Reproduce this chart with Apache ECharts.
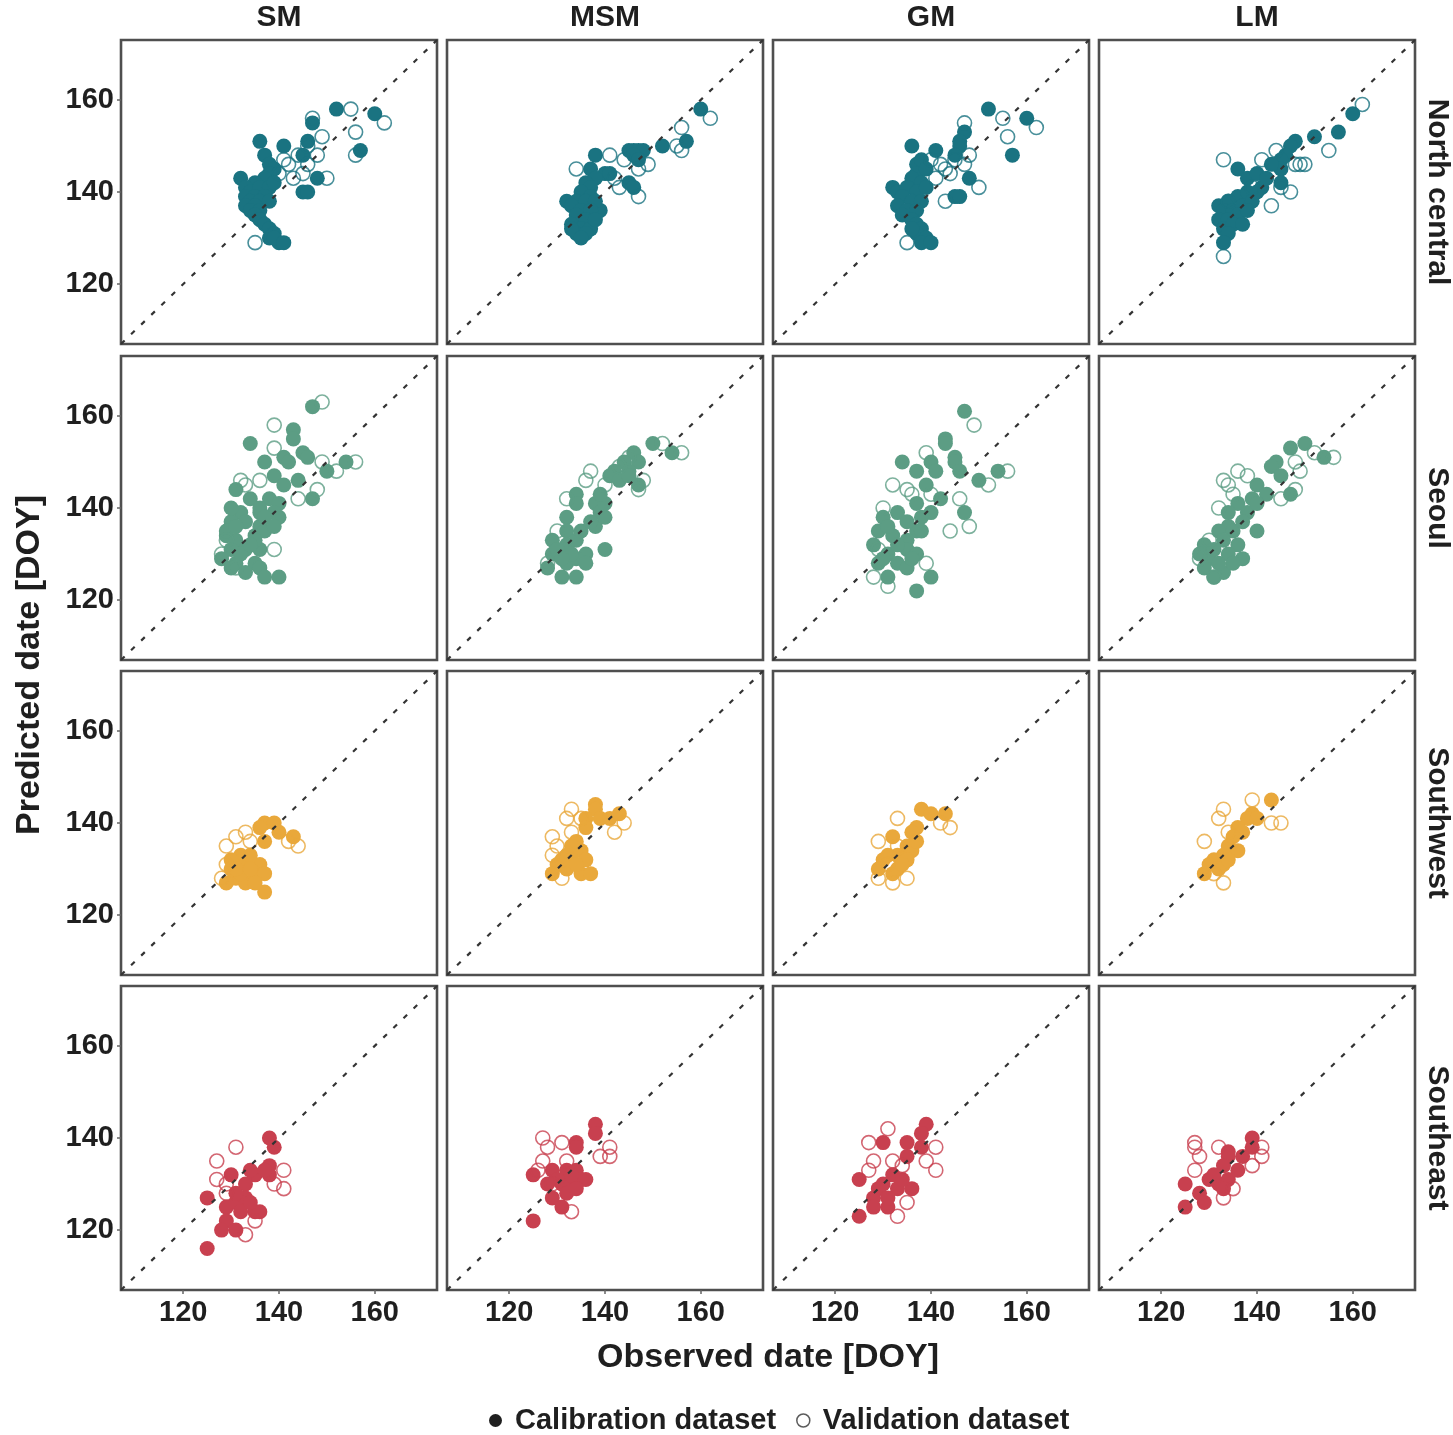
<!DOCTYPE html>
<html>
<head>
<meta charset="utf-8">
<script src="https://cdn.jsdelivr.net/npm/echarts@6/dist/echarts.min.js"></script>
<style>
html,body{margin:0;padding:0;background:#fff;}
#chart{width:1453px;height:1435px;}
</style>
</head>
<body>
<div id="chart"></div>
<script>
// ---------- DATA ----------
const models = ['SM', 'MSM', 'GM', 'LM'];
const regions = ['North central', 'Seoul', 'Southwest', 'Southeast'];
const regionColors = ['#1a7381', '#5c9d84', '#e9a83b', '#c8404f'];
const axisMin = 107, axisMax = 173;
const tickValues = [120, 140, 160];

// North central
const ncSmCal = [[152,158],[160,157],[147,155],[136,151],[141,150],[146,151],[145,148],[157,149],[137,148],[138,146],[132,143],[148,143],[145,140],[146,140],[139,145],[138,144],[137,143],[135,142],[133,141],[134,140],[136,141],[138,141],[139,142],[133,139],[135,139],[137,139],[134,138],[136,138],[138,138],[133,137],[135,137],[134,136],[136,136],[135,135],[136,134],[137,133],[138,132],[139,131],[138,130],[140,129],[139,130],[141,129]];
const ncSmVal = [[155,158],[162,155],[156,153],[149,152],[156,148],[150,143],[135,129],[142,146],[144,148],[146,146],[148,148],[143,143],[146,150],[140,144],[145,144],[147,156],[141,147]];
const ncMsmCal = [[160,158],[157,151],[152,150],[145,149],[146,149],[147,149],[148,149],[146,148],[147,147],[138,148],[145,142],[146,141],[140,144],[141,144],[132,138],[139,136],[137,145],[138,143],[136,142],[137,141],[135,140],[137,139],[134,138],[136,138],[138,138],[133,137],[135,136],[137,136],[134,135],[136,134],[133,133],[135,132],[137,132],[134,131],[136,131],[133,132],[135,130],[138,134]];
const ncMsmVal = [[162,156],[156,154],[134,145],[141,148],[144,147],[147,139],[143,141],[155,150],[156,149],[149,146],[147,145],[142,143]];
const ncGmCal = [[152,158],[160,156],[147,153],[146,151],[136,150],[141,149],[146,150],[145,148],[157,148],[137,146],[132,141],[145,139],[146,139],[148,143],[138,147],[137,144],[139,145],[136,143],[138,142],[133,140],[135,141],[137,140],[139,141],[134,139],[136,138],[138,138],[133,137],[135,136],[137,136],[134,135],[136,134],[137,133],[138,132],[137,131],[139,130],[138,129],[140,129],[136,132]];
const ncGmVal = [[147,155],[155,156],[156,152],[162,154],[150,141],[143,138],[135,129],[140,147],[142,146],[144,144],[145,147],[147,146],[148,148],[141,143],[143,145]];
const ncLmCal = [[160,157],[157,153],[152,152],[148,151],[147,150],[146,148],[145,147],[145,145],[145,142],[136,145],[138,143],[141,141],[143,146],[140,144],[132,137],[134,138],[136,139],[138,140],[133,136],[135,136],[137,137],[139,138],[132,134],[134,134],[136,135],[138,136],[133,132],[135,133],[137,133],[134,131],[133,129],[140,140],[142,143]];
const ncLmVal = [[162,159],[155,149],[149,146],[148,146],[150,146],[133,147],[141,147],[144,149],[143,137],[147,140],[133,126],[134,138],[139,141],[145,141]];

// Seoul
const seoulSmCal = [[147,162],[143,157],[143,155],[134,154],[141,151],[142,150],[145,152],[146,151],[137,150],[154,150],[150,148],[131,144],[147,142],[139,147],[141,145],[144,146],[134,142],[138,142],[140,141],[132,139],[136,139],[139,139],[130,137],[133,137],[136,136],[140,138],[129,134],[131,133],[135,134],[137,135],[130,131],[133,131],[136,131],[128,129],[131,128],[135,128],[133,126],[136,127],[137,125],[140,125],[130,140],[136,140],[129,135],[131,136],[135,133],[132,130],[130,127],[134,132],[137,138],[139,136]];
const seoulSmVal = [[149,163],[139,158],[139,153],[156,150],[152,148],[132,146],[136,146],[148,144],[144,142],[139,131],[128,130],[131,127],[149,150],[129,133],[133,145]];
const seoulMsmCal = [[150,154],[154,152],[146,152],[144,150],[142,148],[141,147],[143,146],[147,150],[147,145],[145,148],[134,143],[134,141],[138,141],[139,139],[140,141],[138,136],[140,138],[132,138],[132,135],[129,133],[132,132],[134,133],[136,130],[129,130],[132,128],[134,129],[128,127],[131,125],[134,125],[136,128],[140,131],[130,131],[133,130],[135,135],[137,137],[131,129],[139,143],[145,147]];
const seoulMsmVal = [[156,152],[152,154],[148,146],[147,144],[136,146],[137,148],[132,142],[140,145],[145,151],[128,128],[143,149],[130,135]];
const seoulGmCal = [[147,161],[143,155],[143,154],[134,150],[137,148],[140,150],[141,148],[145,151],[145,150],[146,148],[154,148],[150,146],[147,139],[139,145],[142,142],[137,135],[137,141],[140,139],[133,139],[130,138],[135,137],[138,138],[129,135],[132,134],[135,133],[138,135],[128,132],[131,130],[135,131],[137,130],[129,128],[133,128],[131,125],[135,127],[140,125],[137,122],[131,136],[133,132],[136,129],[130,129]];
const seoulGmVal = [[149,158],[139,152],[132,145],[135,144],[136,143],[140,143],[152,145],[156,148],[146,142],[144,135],[148,136],[139,128],[128,125],[131,123],[130,140],[129,131]];
const seoulLmCal = [[150,154],[147,153],[154,151],[144,150],[143,149],[145,147],[147,143],[140,145],[142,143],[139,142],[136,141],[138,139],[134,139],[140,141],[140,135],[134,136],[132,135],[135,135],[129,132],[133,133],[136,132],[130,129],[134,130],[137,129],[129,127],[133,126],[135,128],[131,125],[131,131],[132,128],[128,130],[137,137]];
const seoulLmVal = [[156,151],[152,152],[149,148],[148,150],[148,144],[136,148],[133,146],[138,147],[132,140],[135,143],[145,142],[131,125],[128,129],[130,133],[134,145]];

// Southwest
const swSmCal = [[137,140],[139,140],[136,139],[140,138],[143,137],[137,136],[132,133],[130,132],[133,131],[136,131],[135,129],[131,128],[129,127],[133,127],[137,129],[130,130],[137,125],[134,133],[132,129],[135,127],[131,130],[134,130]];
const swSmVal = [[129,135],[133,138],[144,135],[129,131],[142,136],[134,136],[131,137],[128,128]];
const swMsmCal = [[138,144],[138,143],[136,141],[139,141],[141,141],[143,142],[136,139],[133,135],[132,133],[135,134],[130,131],[132,130],[136,132],[129,129],[135,129],[137,129],[134,136],[133,132],[131,132],[134,131]];
const swMsmVal = [[133,143],[132,141],[135,141],[129,137],[142,138],[144,140],[129,133],[131,128],[133,138],[130,135]];
const swGmCal = [[138,143],[140,142],[143,142],[137,139],[136,138],[132,137],[135,135],[133,133],[136,134],[130,132],[133,130],[135,132],[129,130],[132,129],[134,131],[131,133],[137,136]];
const swGmVal = [[133,141],[129,136],[144,139],[142,140],[129,128],[132,127],[135,128],[133,135],[131,131]];
const swLmCal = [[143,145],[139,142],[138,141],[140,141],[136,139],[137,138],[134,135],[133,133],[136,134],[131,132],[133,131],[129,129],[132,130],[135,137],[134,132],[130,131]];
const swLmVal = [[139,145],[133,143],[132,141],[145,140],[143,140],[129,136],[133,127],[134,138],[131,129]];

// Southeast
const seSmCal = [[138,140],[139,138],[135,132],[134,133],[138,134],[138,132],[130,132],[133,130],[125,127],[129,125],[131,126],[133,127],[135,124],[132,124],[129,122],[131,120],[128,120],[136,124],[125,116],[131,128],[134,126],[137,133]];
const seSmVal = [[131,138],[127,135],[141,133],[141,129],[139,130],[127,131],[135,122],[133,119],[129,128],[129,130]];
const seMsmCal = [[138,143],[138,141],[134,139],[134,138],[125,132],[129,133],[132,133],[134,133],[136,131],[131,130],[133,130],[132,128],[129,127],[131,125],[125,122],[135,131],[130,131],[133,132],[128,130],[134,129]];
const seMsmVal = [[127,140],[131,139],[128,138],[141,138],[139,136],[141,136],[127,135],[132,135],[133,124],[129,130],[126,133]];
const seGmCal = [[139,143],[138,141],[135,139],[135,136],[130,139],[138,138],[125,131],[132,132],[129,129],[133,129],[136,129],[128,127],[131,125],[128,125],[125,123],[134,131],[131,127],[130,130]];
const seGmVal = [[131,142],[127,139],[128,135],[127,133],[141,138],[139,135],[141,133],[132,135],[135,126],[133,123],[134,134]];
const seLmCal = [[139,140],[139,138],[134,137],[134,136],[133,134],[130,131],[132,130],[134,131],[128,128],[129,126],[133,129],[125,130],[125,125],[136,133],[137,136],[131,132]];
const seLmVal = [[127,139],[127,138],[132,138],[128,136],[141,138],[141,136],[139,134],[133,127],[127,133],[135,129]];

const calibration = [
  [ncSmCal, ncMsmCal, ncGmCal, ncLmCal],
  [seoulSmCal, seoulMsmCal, seoulGmCal, seoulLmCal],
  [swSmCal, swMsmCal, swGmCal, swLmCal],
  [seSmCal, seMsmCal, seGmCal, seLmCal]
];
const validation = [
  [ncSmVal, ncMsmVal, ncGmVal, ncLmVal],
  [seoulSmVal, seoulMsmVal, seoulGmVal, seoulLmVal],
  [swSmVal, swMsmVal, swGmVal, swLmVal],
  [seSmVal, seMsmVal, seGmVal, seLmVal]
];

// ---------- LAYOUT ----------
const colLeft = [121, 447, 773, 1099];
const rowTop = [40, 356, 671, 986];
const panelW = 316, panelH = 304;
const FONT = '"Liberation Sans", Arial, sans-serif';
const TXT = '#1f1f1f';

const grids = [], xAxes = [], yAxes = [], series = [], graphics = [];

for (let r = 0; r < 4; r++) {
  for (let c = 0; c < 4; c++) {
    const idx = r * 4 + c;
    grids.push({
      left: colLeft[c], top: rowTop[r], width: panelW, height: panelH,
      show: true, backgroundColor: '#fff',
      borderColor: '#4f4f4f', borderWidth: 2.6
    });
    const isBottom = r === 3, isLeft = c === 0;
    xAxes.push({
      gridIndex: idx, type: 'value', min: axisMin, max: axisMax,
      axisLine: { show: false }, splitLine: { show: false },
      axisTick: { show: isBottom, customValues: tickValues, length: 4, lineStyle: { color: '#666', width: 1.5 } },
      axisLabel: { show: isBottom, customValues: tickValues, margin: 8,
        fontSize: 29, fontWeight: 'bold', color: TXT, fontFamily: FONT }
    });
    yAxes.push({
      gridIndex: idx, type: 'value', min: axisMin, max: axisMax,
      axisLine: { show: false }, splitLine: { show: false },
      axisTick: { show: isLeft, customValues: tickValues, length: 4, lineStyle: { color: '#666', width: 1.5 } },
      axisLabel: { show: isLeft, customValues: tickValues, margin: 7,
        fontSize: 29, fontWeight: 'bold', color: TXT, fontFamily: FONT }
    });
    const col = regionColors[r];
    series.push({
      name: regions[r] + ' ' + models[c] + ' calibration',
      type: 'scatter', xAxisIndex: idx, yAxisIndex: idx,
      symbol: 'circle', symbolSize: 15, z: 2,
      itemStyle: { color: col, opacity: 1 },
      data: calibration[r][c]
    });
    series.push({
      name: regions[r] + ' ' + models[c] + ' validation',
      type: 'scatter', xAxisIndex: idx, yAxisIndex: idx,
      symbol: 'circle', symbolSize: 14, z: 2,
      itemStyle: { color: 'rgba(255,255,255,0)', borderColor: col, borderWidth: 1.6 },
      data: validation[r][c]
    });
    series.push({
      name: '1:1 line ' + idx,
      type: 'line', xAxisIndex: idx, yAxisIndex: idx,
      symbol: 'none', silent: true, z: 3,
      lineStyle: { color: '#333', width: 2.2, type: [5, 9] },
      data: [[axisMin, axisMin], [axisMax, axisMax]]
    });
  }
}

// legend-only series
series.push({ name: 'Calibration dataset', type: 'scatter', xAxisIndex: 0, yAxisIndex: 0,
  symbol: 'circle', itemStyle: { color: '#1f1f1f' }, data: [] });
series.push({ name: 'Validation dataset', type: 'scatter', xAxisIndex: 0, yAxisIndex: 0,
  symbol: 'circle', itemStyle: { color: 'rgba(255,255,255,0)', borderColor: '#333', borderWidth: 1.5 }, data: [] });

// strip labels (top)
for (let c = 0; c < 4; c++) {
  graphics.push({
    type: 'text', x: colLeft[c] + panelW / 2, y: 18,
    style: { text: models[c], fill: TXT, font: 'bold 30px ' + FONT, textAlign: 'center', textVerticalAlign: 'middle' }
  });
}
// strip labels (right)
for (let r = 0; r < 4; r++) {
  graphics.push({
    type: 'text', x: 1437, y: rowTop[r] + panelH / 2, rotation: -Math.PI / 2,
    style: { text: regions[r], fill: TXT, font: 'bold 30px ' + FONT, textAlign: 'center', textVerticalAlign: 'middle' }
  });
}
// axis titles
graphics.push({
  type: 'text', x: 768, y: 1358,
  style: { text: 'Observed date [DOY]', fill: TXT, font: 'bold 34px ' + FONT, textAlign: 'center', textVerticalAlign: 'middle' }
});
graphics.push({
  type: 'text', x: 30, y: 665, rotation: Math.PI / 2,
  style: { text: 'Predicted date [DOY]', fill: TXT, font: 'bold 34px ' + FONT, textAlign: 'center', textVerticalAlign: 'middle' }
});

const chart = echarts.init(document.getElementById('chart'), null, { renderer: 'canvas' });
chart.setOption({
  animation: false,
  backgroundColor: '#fff',
  grid: grids,
  xAxis: xAxes,
  yAxis: yAxes,
  legend: {
    left: 484, top: 1401,
    itemWidth: 13, itemHeight: 13, itemGap: 20,
    textStyle: { fontSize: 29, fontWeight: 'bold', color: TXT, fontFamily: FONT, padding: [0, 0, 0, 8] },
    data: [
      { name: 'Calibration dataset', icon: 'circle', itemStyle: { color: '#1f1f1f', opacity: 1 } },
      { name: 'Validation dataset', icon: 'circle', itemStyle: { color: 'rgba(255,255,255,0)', borderColor: '#333', borderWidth: 1.5 } }
    ]
  },
  graphic: graphics,
  series: series
});
</script>
</body>
</html>
